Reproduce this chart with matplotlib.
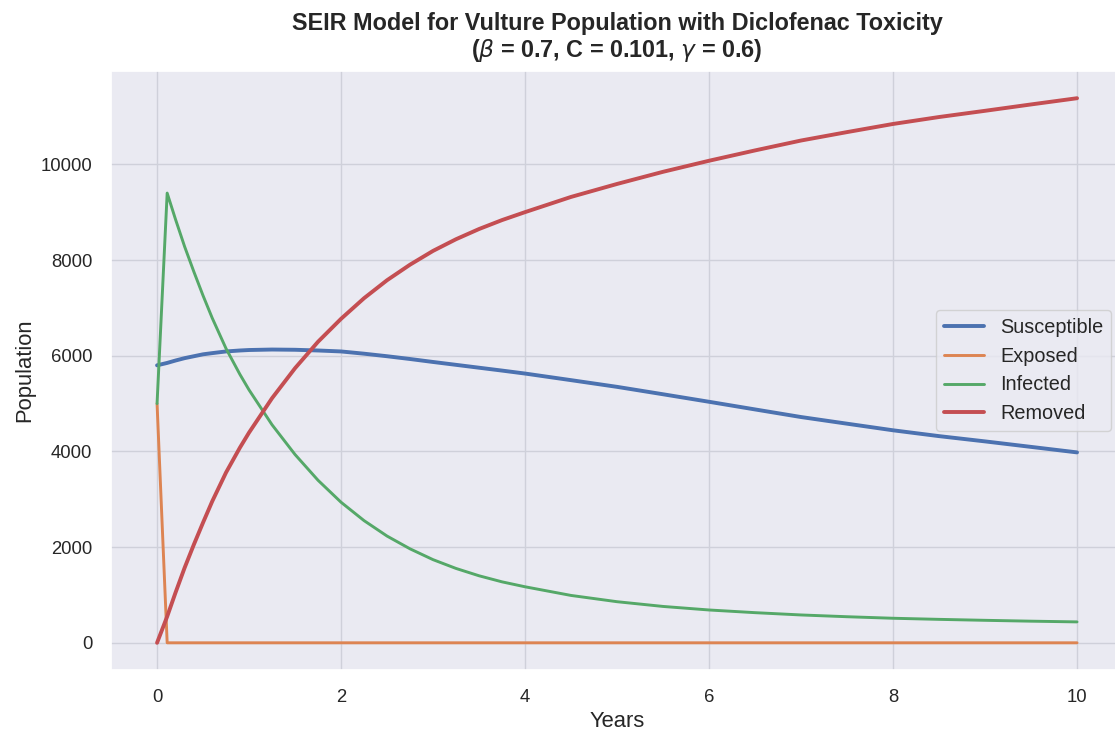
import matplotlib
matplotlib.use("Agg")
import matplotlib.pyplot as plt
import seaborn as sns

# values
years = [0, 0.11, 0.2, 0.3, 0.4, 0.5, 0.6, 0.75, 0.9, 1.0, 1.25, 1.5, 1.75, 2.0,
         2.25, 2.5, 2.75, 3.0, 3.25, 3.5, 3.75, 4.0, 4.5, 5.0, 5.5, 6.0, 6.5, 7.0,
         7.5, 8.0, 8.5, 9.0, 9.5, 10.0]
susceptible = [5800, 5850, 5900, 5950, 5990, 6030, 6055, 6090, 6110, 6120, 6130, 6125,
               6110, 6090, 6043, 5990, 5932, 5870, 5810, 5750, 5690, 5628, 5490, 5350,
               5195, 5038, 4878, 4719, 4580, 4442, 4320, 4210, 4095, 3980]
exposed = [5000, 0, 0, 0, 0, 0, 0, 0, 0, 0, 0, 0, 0, 0, 0, 0, 0,
           0, 0, 0, 0, 0, 0, 0, 0, 0, 0, 0, 0, 0, 0, 0, 0, 0]
infected = [5000, 9400, 8855, 8280, 7757, 7257, 6787, 6150, 5613, 5286, 4557, 3935,
            3397, 2938, 2554, 2231, 1964, 1738, 1554, 1401, 1274, 1171, 990, 859,
            760, 686, 630, 582, 545, 513, 490, 470, 452, 437]
removed = [0, 550, 1045, 1570, 2053, 2513, 2958, 3560, 4077, 4394, 5113, 5740,
           6293, 6772, 7203, 7579, 7904, 8192, 8436, 8649, 8836, 9002, 9320, 9591,
           9845, 10076, 10292, 10499, 10675, 10845, 10990, 11120, 11253, 11383]

sns.set_theme(style="darkgrid")
plt.rcParams['font.family'] = ['Liberation Sans', 'DejaVu Sans']

fig = plt.figure(figsize=(11.15, 7.38), dpi=100)
ax = fig.add_axes([0.0996, 0.0921, 0.9076, 0.8117])

ax.plot(years, susceptible, label="Susceptible", color="#4C72B0", lw=2.8)
ax.plot(years, exposed, label="Exposed", color="#DD8452", lw=2.1)
ax.plot(years, infected, label="Infected", color="#55A868", lw=2.1)
ax.plot(years, removed, label="Removed", color="#C44E52", lw=2.8)

ax.grid(True, color="#cfd0da", lw=1.0)
ax.tick_params(axis="both", labelsize=13.3, length=0, pad=13.5, colors="#262626")
ax.set_xlabel("Years", fontsize=15.8, color="#262626")
ax.set_ylabel("Population", fontsize=15.8, color="#262626")
ax.set_title("SEIR Model for Vulture Population with Diclofenac Toxicity\n"
             r"($\beta$ = 0.7, C = 0.101, $\gamma$ = 0.6)",
             fontsize=16.8, fontweight="bold", color="#262626",
             linespacing=1.1, pad=10)
ax.legend(loc="center right", fontsize=14.3, borderaxespad=0.6)

fig.savefig("out.png", dpi=100)
